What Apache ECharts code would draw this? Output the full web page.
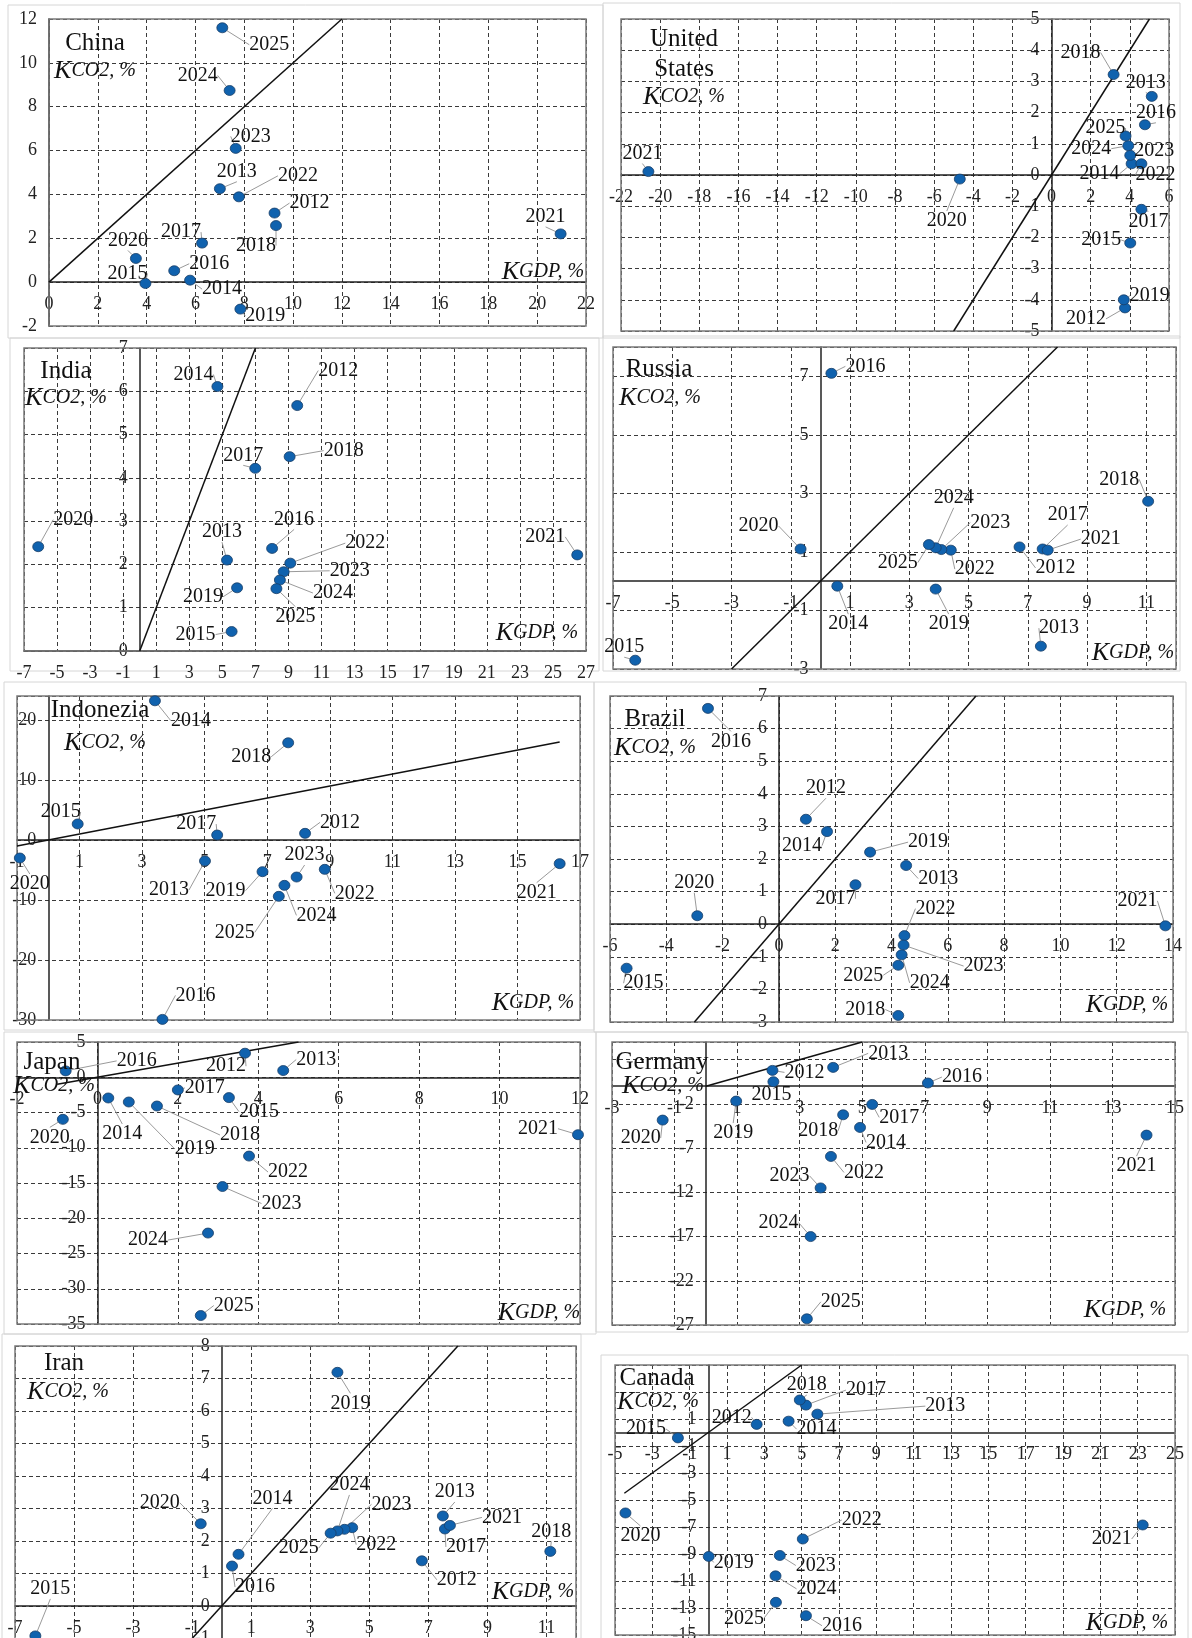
<!DOCTYPE html>
<html><head><meta charset="utf-8">
<script src="https://cdn.jsdelivr.net/npm/echarts@6/dist/echarts.min.js"></script>
<style>html,body{margin:0;padding:0;background:#fff;overflow:hidden}#c{width:1192px;height:1638px}</style>
</head><body><div id="c"></div>
<script>
const years = [2012,2013,2014,2015,2016,2017,2018,2019,2020,2021,2022,2023,2024,2025];

const chinaGDP = [9.24,7.0,5.78,3.95,5.13,6.27,9.3,7.84,3.56,20.96,7.78,7.65,7.4,7.1];
const chinaCO2 = [3.15,4.26,0.09,-0.06,0.52,1.78,2.58,-1.23,1.08,2.2,3.89,6.1,8.74,11.6];
const usGDP = [3.75,5.12,4.09,4.02,4.77,4.59,3.17,3.69,-4.69,-20.6,4.59,4.02,3.92,3.78];
const usCO2 = [-4.26,2.52,0.36,-2.18,1.61,-1.1,3.22,-4.0,-0.13,0.11,0.36,0.63,0.94,1.25];
const indiaGDP = [9.53,5.28,4.70,5.56,8.01,6.99,9.07,5.89,-6.14,26.47,9.11,8.71,8.48,8.27];
const indiaCO2 = [5.67,2.10,6.11,0.45,2.37,4.22,4.49,1.46,2.41,2.22,2.03,1.83,1.64,1.44];
const russiaGDP = [6.72,7.44,0.57,-6.25,0.37,7.50,11.06,3.89,-0.67,7.67,4.40,4.08,3.89,3.66];
const russiaCO2 = [1.17,-2.22,-0.17,-2.70,7.10,1.10,2.73,-0.27,1.10,1.06,1.06,1.08,1.14,1.25];
const indonesiaGDP = [8.21,5.01,3.41,0.94,3.65,5.40,7.67,6.85,-0.91,16.35,8.84,7.94,7.55,7.37];
const indonesiaCO2 = [1.11,-3.5,23.2,2.67,-29.9,0.83,16.2,-5.28,-3.0,-3.94,-4.89,-6.17,-7.56,-9.39];
const brazilGDP = [0.96,4.52,1.71,-5.41,-2.52,2.72,4.24,3.24,-2.90,13.73,4.46,4.43,4.36,4.24];
const brazilCO2 = [3.22,1.80,2.84,-1.35,6.62,1.21,-2.80,2.21,0.26,-0.05,-0.35,-0.64,-0.94,-1.26];
const japanGDP = [3.67,4.62,0.27,3.27,-0.79,2.0,1.48,0.78,-0.86,11.95,3.77,3.11,2.75,2.57];
const japanCO2 = [3.41,0.95,-2.94,-2.89,0.90,-1.80,-4.08,-3.51,-5.97,-8.15,-11.18,-15.5,-22.1,-33.8];
const germanyGDP = [2.13,4.07,4.93,2.16,7.10,5.32,4.39,0.97,-1.38,14.09,4.0,3.67,3.35,3.23];
const germanyCO2 = [1.79,2.13,-4.66,0.51,0.36,-2.06,-3.23,-1.68,-3.83,-5.53,-7.94,-11.5,-17.0,-26.3];
const iranGDP = [6.78,7.49,0.57,-6.31,0.35,7.56,11.13,3.92,-0.71,7.73,4.42,4.16,3.92,3.69];
const iranCO2 = [1.39,2.77,1.59,-0.92,1.23,2.37,1.68,7.19,2.53,2.48,2.41,2.36,2.31,2.24];
const canadaGDP = [2.59,5.84,4.30,-1.63,5.23,5.23,4.90,0.02,-4.44,23.27,5.06,3.83,3.60,3.62];
const canadaCO2 = [0.60,1.36,0.84,-0.40,-13.57,2.03,2.41,-9.18,-5.96,-6.85,-7.89,-9.11,-10.62,-12.58];

// axis ranges [min, max, interval]
const chinaX = [0,22,2], chinaY = [-2,12,2];
const usX = [-22,6,2], usY = [-5,5,1];
const indiaX = [-7,27,2], indiaY = [0,7,1];
const russiaX = [-7,12,2], russiaY = [-3,8,2];
const indonesiaX = [-1,17,2], indonesiaY = [-30,24,10];
const brazilX = [-6,14,2], brazilY = [-3,7,1];
const japanX = [-2,12,2], japanY = [-35,5,5];
const germanyX = [-3,15,2], germanyY = [-27,5,5];
const iranX = [-7,12,2], iranY = [-2,8,1];
const canadaX = [-5,25,2], canadaY = [-15,5,2];

// label offsets (px) per year
const chinaOffs = [[35,-10],[17,-17],[32,9],[-18,-10],[35,-7],[-21,-11],[-20,20],[25,7],[-8,-18],[-15,-17],[59,-21],[15,-12],[-32,-15],[47,17]];
const usOffs = [[-39,11],[-6,-14],[-32,10],[-29,-3],[11,-12],[7,12],[-33,-22],[26,-4],[-13,42],[-6,-18],[14,11],[24,-5],[-37,3],[-20,-8]];
const indiaOffs = [[41,-35],[-5,-28],[-24,-12],[-36,3],[22,-29],[-12,-13],[54,-6],[-34,9],[35,-27],[-32,-18],[75,-20],[66,-1],[53,13],[19,28]];
const russiaOffs = [[36,21],[18,-18],[11,38],[-11,-13],[34,-7],[25,-34],[-29,-22],[13,35],[-42,-23],[53,-11],[24,19],[49,-27],[18,-50],[-31,18]];
const indonesiaOffs = [[35,-11],[-36,29],[36,20],[-17,-12],[33,-24],[-21,-11],[-37,14],[-37,19],[10,26],[-23,29],[30,24],[8,-22],[32,30],[-44,36]];
const brazilOffs = [[20,-31],[32,13],[-25,14],[17,15],[23,33],[-20,14],[-33,-6],[58,-10],[-3,-33],[-28,-25],[31,-27],[80,21],[28,28],[-35,10]];
const japanOffs = [[-19,13],[33,-11],[14,36],[30,14],[71,-10],[27,-2],[83,29],[66,47],[-13,18],[-40,-6],[39,16],[59,17],[-60,7],[33,-10]];
const germanyOffs = [[32,2],[55,-14],[26,15],[-2,13],[34,-6],[27,13],[-25,16],[-3,32],[-22,18],[-10,31],[33,16],[-31,-12],[-32,-14],[34,-17]];
const iranOffs = [[35,19],[12,-24],[34,-56],[15,-47],[23,21],[21,18],[1,-20],[13,31],[-41,-21],[52,-8],[24,17],[47,-25],[12,-46],[-32,15]];
const canadaOffs = [[-25,-7],[128,-8],[28,8],[-32,-9],[36,10],[60,-15],[7,-15],[25,6],[15,23],[-31,14],[59,-19],[36,10],[41,13],[-32,16]];

const panels = [
 {t:'China', gdp:chinaGDP, co2:chinaCO2, x:chinaX, y:chinaY, diag:[0,12], offs:chinaOffs, grid:[49,19,537,307], title:[95,43], kco2:[95,71], kgdp:[543,272], frame:[8,5,595,333], hx:[], hy:[]},
 {t:'United\nStates', gdp:usGDP, co2:usCO2, x:usX, y:usY, diag:[-5,5], offs:usOffs, grid:[621,19,548,312], title:[684,54], kco2:[684,97], kgdp:null, frame:[603,3,577,335], hx:[], hy:[]},
 {t:'India', gdp:indiaGDP, co2:indiaCO2, x:indiaX, y:indiaY, diag:[0,7], offs:indiaOffs, grid:[24,348,562,303], title:[66,371], kco2:[66,398], kgdp:[537,633], frame:[10,338,589,333], hx:[], hy:[]},
 {t:'Russia', gdp:russiaGDP, co2:russiaCO2, x:russiaX, y:russiaY, diag:[-3,8], offs:russiaOffs, grid:[613,347,563,322], title:[659,369], kco2:[660,398], kgdp:[1133,653], frame:[603,336,577,335], hx:[12], hy:[8]},
 {t:'Indonezia', gdp:indonesiaGDP, co2:indonesiaCO2, x:indonesiaX, y:indonesiaY, diag:[-1,16.35], offs:indonesiaOffs, grid:[17,696,563,324], title:[100,710], kco2:[105,743], kgdp:[533,1003], frame:[4,682,590,348], hx:[], hy:[24]},
 {t:'Brazil', gdp:brazilGDP, co2:brazilCO2, x:brazilX, y:brazilY, diag:[-3,7], offs:brazilOffs, grid:[610,696,563,326], title:[655,719], kco2:[655,748], kgdp:[1127,1005], frame:[594,682,592,350], hx:[], hy:[]},
 {t:'Japan', gdp:japanGDP, co2:japanCO2, x:japanX, y:japanY, diag:[-1,5], offs:japanOffs, grid:[17,1042,563,282], title:[52,1062], kco2:[54,1086], kgdp:[539,1313], frame:[4,1032,592,302], hx:[], hy:[]},
 {t:'Germany', gdp:germanyGDP, co2:germanyCO2, x:germanyX, y:germanyY, diag:[0,5], offs:germanyOffs, grid:[612,1042,563,283], title:[662,1062], kco2:[663,1086], kgdp:[1125,1310], frame:[596,1032,592,300], hx:[], hy:[3,5]},
 {t:'Iran', gdp:iranGDP, co2:iranCO2, x:iranX, y:iranY, diag:[-1.2,8], offs:iranOffs, grid:[15,1346,561,325], title:[64,1363], kco2:[68,1392], kgdp:[533,1592], frame:[2,1334,579,320], hx:[12], hy:[]},
 {t:'Canada', gdp:canadaGDP, co2:canadaCO2, x:canadaX, y:canadaY, diag:[-4.5,5], offs:canadaOffs, grid:[615,1365,560,270], title:[657,1378], kco2:[658,1402], kgdp:[1127,1623], frame:[601,1355,587,300], hx:[], hy:[3,5]}
];

const FF = '"Liberation Serif","Times New Roman",serif';
const chart = echarts.init(document.getElementById('c'), null, {renderer:'canvas'});

const grids = [], xAxes = [], yAxes = [], series = [], graphic = [];
panels.forEach((p, i) => {
  const [gl, gt, gw, gh] = p.grid;
  grids.push({left:gl, top:gt, width:gw, height:gh, show:true, outerBoundsMode:'none', containLabel:false,
    borderColor:'#7a7a7a', borderWidth:1.5, backgroundColor:'transparent', z:1});
  // shift axes onto the zero lines (labels follow the axis line)
  const xOff = p.y[0] < 0 ? -((0 - p.y[0]) / (p.y[1] - p.y[0])) * gh : 0;
  const yOff = p.x[0] < 0 ? -((0 - p.x[0]) / (p.x[1] - p.x[0])) * gw : 0;
  const axisCommon = {
    type:'value', gridIndex:i,
    axisTick:{show:false},
    splitLine:{show:true, lineStyle:{type:[4,3], color:'#3a3a3a', width:1}}
  };
  xAxes.push(Object.assign({}, axisCommon, {position:'bottom', offset:xOff, min:p.x[0], max:p.x[1], interval:p.x[2],
    axisLine:{show:true, onZero:false, lineStyle:{color:'#222', width:1.5}},
    axisLabel:{show:true, margin:13, fontSize:18, fontFamily:FF, color:'#222', showMinLabel:true, showMaxLabel:true,
      hideOverlap:false, formatter:v => p.hx.includes(v) ? '' : String(v)}}));
  yAxes.push(Object.assign({}, axisCommon, {position:'left', offset:yOff, min:p.y[0], max:p.y[1], interval:p.y[2],
    axisLine:{show:true, onZero:false, lineStyle:{color:'#222', width:1.5}},
    axisLabel:{show:true, margin:12, fontSize:18, fontFamily:FF, color:'#222', showMinLabel:true, showMaxLabel:true,
      hideOverlap:false, formatter:v => p.hy.includes(v) ? '' : String(v)}}));
  series.push({
    type:'line', xAxisIndex:i, yAxisIndex:i, data:[[p.diag[0],p.diag[0]],[p.diag[1],p.diag[1]]],
    symbol:'none', showSymbol:false, silent:true, lineStyle:{color:'#111', width:1.5}, z:2, clip:true
  });
  series.push({
    type:'scatter', xAxisIndex:i, yAxisIndex:i,
    data:p.gdp.map((g,j) => [g, p.co2[j], years[j]]),
    symbol:'circle', symbolSize:[11,10],
    itemStyle:{color:'#1062ae', borderColor:'#1a3f66', borderWidth:0.8, opacity:1},
    label:{show:true, position:'inside', formatter:q => String(q.value[2]), color:'#111', fontSize:20, fontFamily:FF},
    labelLine:{show:true, lineStyle:{color:'#9a9a9a', width:1}},
    labelLayout:q => ({dx:p.offs[q.dataIndex][0], dy:p.offs[q.dataIndex][1]}),
    z:4, clip:false
  });
  graphic.push({type:'rect', silent:true, z:-10, shape:{x:p.frame[0], y:p.frame[1], width:p.frame[2], height:p.frame[3]},
    style:{fill:'none', stroke:'#d6d6d6', lineWidth:1}});
  graphic.push({type:'text', silent:true, z:10, x:p.title[0], y:p.title[1],
    style:{text:p.t, fontSize:25, fontFamily:FF, fill:'#111', align:'center', verticalAlign:'middle', textAlign:'center', textVerticalAlign:'middle', lineHeight:30}});
  const rich = {k:{fontSize:26, fontStyle:'italic', fontFamily:FF, fill:'#111'}, s:{fontSize:20, fontStyle:'italic', fontFamily:FF, fill:'#111'}};
  graphic.push({type:'text', silent:true, z:10, x:p.kco2[0], y:p.kco2[1],
    style:{text:'{k|K}{s|CO2, %}', rich:rich, align:'center', verticalAlign:'middle', textAlign:'center', textVerticalAlign:'middle'}});
  if (p.kgdp) graphic.push({type:'text', silent:true, z:10, x:p.kgdp[0], y:p.kgdp[1],
    style:{text:'{k|K}{s|GDP, %}', rich:rich, align:'center', verticalAlign:'middle', textAlign:'center', textVerticalAlign:'middle'}});
});

chart.setOption({
  animation:false, backgroundColor:'#fff',
  textStyle:{fontFamily:FF},
  grid:grids, xAxis:xAxes, yAxis:yAxes, series:series, graphic:graphic
});
</script></body></html>
